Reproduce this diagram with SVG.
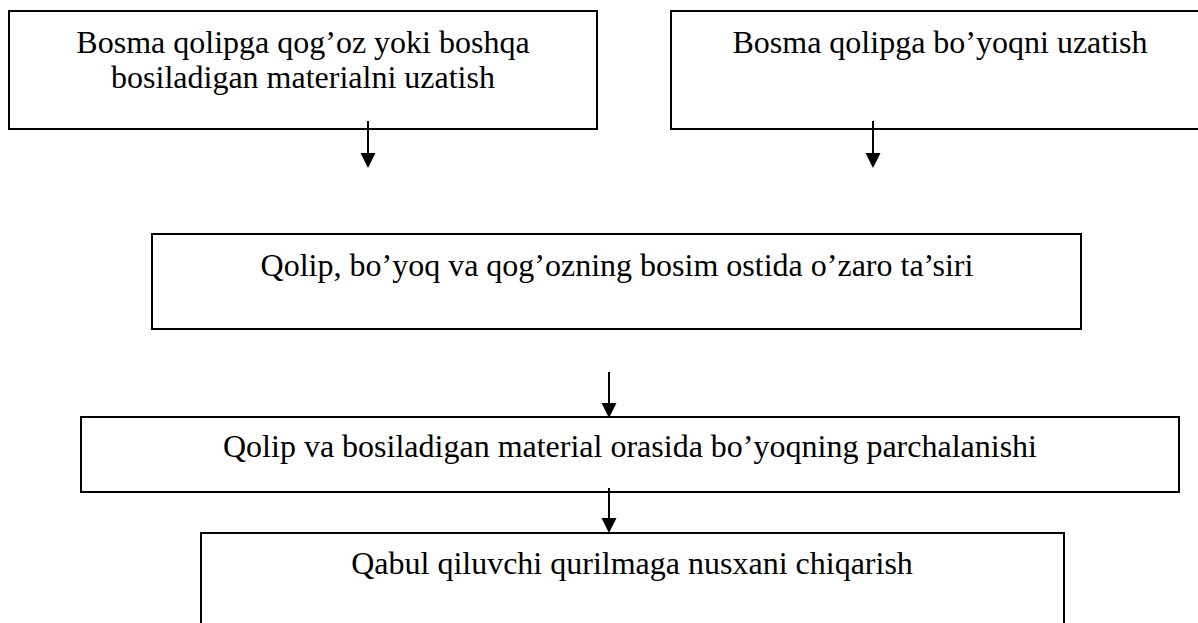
<svg xmlns="http://www.w3.org/2000/svg" width="1198" height="623" viewBox="0 0 1198 623">
<style>
.box{fill:#fff;stroke:#000;stroke-width:2}
.t{font-family:"Liberation Serif","Times New Roman",serif;font-size:32px;fill:#000;text-anchor:middle}
.c{stroke:#000;stroke-width:2;fill:none}
</style>
<defs>
<marker id="ah" markerUnits="userSpaceOnUse" markerWidth="16" markerHeight="16" viewBox="0 0 16 16" refX="8" refY="15" orient="auto-start-reverse">
<path d="M0.5,0 L15.5,0 L8,15 Z" fill="#000" transform="rotate(0)"/>
</marker>
</defs>
<rect width="1198" height="623" fill="#fff"/>
<g id="n1">
<rect class="box" x="9" y="11" width="588" height="118"/>
<text class="t" x="303" y="53">Bosma qolipga qog’oz yoki boshqa</text>
<text class="t" x="303" y="88">bosiladigan materialni uzatish</text>
</g>
<g id="n2">
<rect class="box" x="671" y="11" width="540" height="118"/>
<text class="t" x="940" y="53">Bosma qolipga bo’yoqni uzatish</text>
</g>
<g id="n3">
<rect class="box" x="152" y="234" width="929" height="95"/>
<text class="t" x="617" y="276">Qolip, bo’yoq va qog’ozning bosim ostida o’zaro ta’siri</text>
</g>
<g id="n4">
<rect class="box" x="81" y="417" width="1098" height="75"/>
<text class="t" x="630" y="457">Qolip va bosiladigan material orasida bo’yoqning parchalanishi</text>
</g>
<g id="n5">
<rect class="box" x="201" y="533" width="863" height="100"/>
<text class="t" x="632" y="574">Qabul qiluvchi qurilmaga nusxani chiqarish</text>
</g>
<g id="connectors">
<path class="c" d="M368,121 V153"/>
<path d="M360.5,153 L375.5,153 L368,168 Z"/>
<path class="c" d="M873,121 V153"/>
<path d="M865.5,153 L880.5,153 L873,168 Z"/>
<path class="c" d="M609,372 V403"/>
<path d="M601.5,403 L616.5,403 L609,418 Z"/>
<path class="c" d="M609,488 V518"/>
<path d="M601.5,518 L616.5,518 L609,533 Z"/>
</g>
</svg>
